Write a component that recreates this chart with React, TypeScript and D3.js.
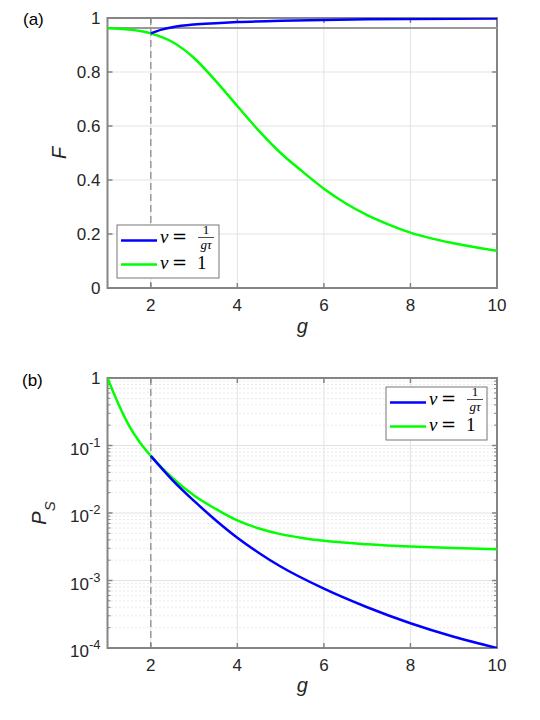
import React from 'react';
import * as d3 from 'd3';

// panel (a): fidelity F versus g
const gGreenF = [1, 1.5, 2, 2.5, 3, 3.5, 4, 4.5, 5, 5.5, 6, 6.5, 7, 7.5, 8, 8.5, 9, 9.5, 10];
const fGreen = [0.962, 0.957, 0.943, 0.911, 0.852, 0.767, 0.674, 0.582, 0.5, 0.432, 0.368, 0.314, 0.27, 0.235, 0.205, 0.183, 0.166, 0.151, 0.138];
const gBlueF = [2, 2.25, 2.5, 3, 3.5, 4, 5, 6, 7, 8, 9, 10];
const fBlue = [0.943, 0.957, 0.966, 0.976, 0.981, 0.985, 0.99, 0.993, 0.995, 0.996, 0.997, 0.998];
const fRef = 0.963;

// panel (b): success probability P_S versus g (log scale)
const gGreenP = [1, 1.25, 1.5, 1.75, 2, 2.5, 3, 3.5, 4, 4.5, 5, 5.5, 6, 7, 8, 9, 10];
const pGreen = [1, 0.415, 0.196, 0.111, 0.0703, 0.0331, 0.0182, 0.0115, 0.00776, 0.00589, 0.00486, 0.00426, 0.00387, 0.00344, 0.00318, 0.00302, 0.00291];
const gBlueP = [2, 2.5, 3, 3.5, 4, 4.5, 5, 6, 7, 8, 9, 10];
const pBlue = [0.0703, 0.0308, 0.0151, 0.00782, 0.0043, 0.00256, 0.00161, 0.000757, 0.000402, 0.000233, 0.000147, 0.0001];

const xTicks = [2, 4, 6, 8, 10];
const fTicks = [0, 0.2, 0.4, 0.6, 0.8, 1];
const pExps = [0, -1, -2, -3, -4];
const gCut = 2;

const W = 540;
const H = 720;
const left = 107.5;
const right = 497;
const axisColor = '#858585';
const gridColor = '#e3e3e3';
const sans = 'Liberation Sans, Arial, sans-serif';
const serif = 'Liberation Serif, Times New Roman, serif';
const tickFont = 17;

const x = d3.scaleLinear().domain([1, 10]).range([left, right]);
const yF = d3.scaleLinear().domain([0, 1]).range([288, 18]);
const yP = d3.scaleLog().domain([1e-4, 1]).range([648, 378]);

const toPts = (gs: number[], vs: number[]) => gs.map((g, i) => [g, vs[i]] as [number, number]);

// legend entry: nu = 1/(g tau)
const NuFrac = ({ x0, y0 }: { x0: number; y0: number }) => (
  <g>
    <text x={x0} y={y0} fontFamily={serif} fontStyle="italic" fontSize={19}>ν</text>
    <text x={x0 + 12} y={y0} fontFamily="DejaVu Serif, serif" fontSize={18}>=</text>
    <text x={x0 + 46} y={y0 - 9} fontFamily={serif} fontSize={13} textAnchor="middle">1</text>
    <line x1={x0 + 38} x2={x0 + 54} y1={y0 - 5.5} y2={y0 - 5.5} stroke="#000" strokeWidth={0.7} />
    <text x={x0 + 46} y={y0 + 6} fontFamily={serif} fontStyle="italic" fontSize={13} textAnchor="middle">gτ</text>
  </g>
);

const NuOne = ({ x0, y0 }: { x0: number; y0: number }) => (
  <g>
    <text x={x0} y={y0} fontFamily={serif} fontStyle="italic" fontSize={19}>ν</text>
    <text x={x0 + 12} y={y0} fontFamily="DejaVu Serif, serif" fontSize={18}>=</text>
    <text x={x0 + 37} y={y0} fontFamily={serif} fontSize={19}>1</text>
  </g>
);

const Legend = ({ x0, y0, w, h }: { x0: number; y0: number; w: number; h: number }) => (
  <g>
    <rect x={x0} y={y0} width={w} height={h} fill="#fff" stroke="#777" strokeWidth={1} />
    <line x1={x0 + 4} x2={x0 + 40} y1={y0 + 15.5} y2={y0 + 15.5} stroke="#0000ff" strokeWidth={2.5} />
    <NuFrac x0={x0 + 43} y0={y0 + 18} />
    <line x1={x0 + 4} x2={x0 + 40} y1={y0 + 39.5} y2={y0 + 39.5} stroke="#00ff00" strokeWidth={2.5} />
    <NuOne x0={x0 + 43} y0={y0 + 44} />
  </g>
);

export default function App() {
  const lineF = d3.line<[number, number]>().x(d => x(d[0])).y(d => yF(d[1])).curve(d3.curveMonotoneX);
  const lineP = d3.line<[number, number]>().x(d => x(d[0])).y(d => yP(d[1])).curve(d3.curveMonotoneX);

  const [t1, b1] = yF.range().slice().reverse();
  const [t2, b2] = yP.range().slice().reverse();

  const minorP: number[] = [];
  for (let e = -4; e < 0; e++) for (let m = 2; m <= 9; m++) minorP.push(m * Math.pow(10, e));

  const xAxis = (top: number, bottom: number) => (
    <g>
      {xTicks.map(t => (
        <g key={t}>
          <line x1={x(t)} x2={x(t)} y1={bottom} y2={bottom - 5} stroke={axisColor} strokeWidth={1.5} />
          <line x1={x(t)} x2={x(t)} y1={top} y2={top + 5} stroke={axisColor} strokeWidth={1.5} />
          <text x={x(t)} y={bottom + 23} textAnchor="middle" fontFamily={sans} fontSize={tickFont} fill="#262626">{t}</text>
        </g>
      ))}
    </g>
  );

  return (
    <svg width={W} height={H} style={{ position: 'absolute', left: 0, top: 0, background: '#fff' }}>
      <defs>
        <clipPath id="clipA"><rect x={left} y={t1} width={right - left} height={b1 - t1} /></clipPath>
        <clipPath id="clipB"><rect x={left} y={t2} width={right - left} height={b2 - t2} /></clipPath>
      </defs>

      {/* ---------- panel (a) ---------- */}
      <text x={23} y={25} fontFamily={sans} fontSize={tickFont} fill="#000">(a)</text>
      {xTicks.map(t => (
        <line key={'gx' + t} x1={x(t)} x2={x(t)} y1={t1} y2={b1} stroke={gridColor} strokeWidth={1} />
      ))}
      {fTicks.map(t => (
        <line key={'gy' + t} x1={left} x2={right} y1={yF(t)} y2={yF(t)} stroke={gridColor} strokeWidth={1} />
      ))}
      <line x1={x(gCut)} x2={x(gCut)} y1={t1} y2={b1} stroke="#999" strokeWidth={1.5} strokeDasharray="7,4" />
      <rect x={left} y={t1} width={right - left} height={b1 - t1} fill="none" stroke={axisColor} strokeWidth={2} />
      {fTicks.map(t => (
        <g key={'ty' + t}>
          <line x1={left} x2={left + 5} y1={yF(t)} y2={yF(t)} stroke={axisColor} strokeWidth={1.5} />
          <line x1={right} x2={right - 5} y1={yF(t)} y2={yF(t)} stroke={axisColor} strokeWidth={1.5} />
          <text x={left - 7} y={yF(t) + 6} textAnchor="end" fontFamily={sans} fontSize={tickFont} fill="#262626">{t}</text>
        </g>
      ))}
      {xAxis(t1, b1)}
      <g clipPath="url(#clipA)">
        <line x1={left} x2={right} y1={yF(fRef)} y2={yF(fRef)} stroke="#999" strokeWidth={2} />
        <path d={lineF(toPts(gGreenF, fGreen)) || ''} fill="none" stroke="#00ff00" strokeWidth={2.5} />
        <path d={lineF(toPts(gBlueF, fBlue)) || ''} fill="none" stroke="#0000ff" strokeWidth={2.5} />
      </g>
      <Legend x0={117} y0={225} w={102} h={53} />
      <text x={(left + right) / 2} y={333} textAnchor="middle" fontFamily={sans} fontStyle="italic" fontSize={20} fill="#262626">g</text>
      <text transform={`translate(66,${(t1 + b1) / 2}) rotate(-90)`} textAnchor="middle" fontFamily={sans} fontStyle="italic" fontSize={20} fill="#262626">F</text>

      {/* ---------- panel (b) ---------- */}
      <text x={22} y={386} fontFamily={sans} fontSize={tickFont} fill="#000">(b)</text>
      {minorP.map(v => (
        <line key={'mg' + v} x1={left} x2={right} y1={yP(v)} y2={yP(v)} stroke="#d6d6d6" strokeWidth={1} strokeDasharray="1,3" />
      ))}
      {xTicks.map(t => (
        <line key={'gx2' + t} x1={x(t)} x2={x(t)} y1={t2} y2={b2} stroke={gridColor} strokeWidth={1} />
      ))}
      {pExps.map(e => (
        <line key={'gy2' + e} x1={left} x2={right} y1={yP(Math.pow(10, e))} y2={yP(Math.pow(10, e))} stroke={gridColor} strokeWidth={1} />
      ))}
      <line x1={x(gCut)} x2={x(gCut)} y1={t2} y2={b2} stroke="#999" strokeWidth={1.5} strokeDasharray="7,4" />
      <rect x={left} y={t2} width={right - left} height={b2 - t2} fill="none" stroke={axisColor} strokeWidth={2} />
      {minorP.map(v => (
        <g key={'mt' + v}>
          <line x1={left} x2={left + 3} y1={yP(v)} y2={yP(v)} stroke={axisColor} strokeWidth={1} />
          <line x1={right} x2={right - 3} y1={yP(v)} y2={yP(v)} stroke={axisColor} strokeWidth={1} />
        </g>
      ))}
      {pExps.map(e => {
        const yy = yP(Math.pow(10, e));
        return (
          <g key={'ty2' + e}>
            <line x1={left} x2={left + 5} y1={yy} y2={yy} stroke={axisColor} strokeWidth={1.5} />
            <line x1={right} x2={right - 5} y1={yy} y2={yy} stroke={axisColor} strokeWidth={1.5} />
            {e === 0 ? (
              <text x={left - 7} y={yy + 6} textAnchor="end" fontFamily={sans} fontSize={tickFont} fill="#262626">1</text>
            ) : (
              <text x={left - 7} y={yy + 9} textAnchor="end" fontFamily={sans} fontSize={tickFont} fill="#262626">
                10<tspan dy={-8} fontSize={13}>{e}</tspan>
              </text>
            )}
          </g>
        );
      })}
      {xAxis(t2, b2)}
      <g clipPath="url(#clipB)">
        <path d={lineP(toPts(gGreenP, pGreen)) || ''} fill="none" stroke="#00ff00" strokeWidth={2.5} />
        <path d={lineP(toPts(gBlueP, pBlue)) || ''} fill="none" stroke="#0000ff" strokeWidth={2.5} />
      </g>
      <Legend x0={386} y0={387} w={101} h={53} />
      <text x={(left + right) / 2} y={692} textAnchor="middle" fontFamily={sans} fontStyle="italic" fontSize={20} fill="#262626">g</text>
      <text transform={`translate(46,${(t2 + b2) / 2}) rotate(-90)`} textAnchor="middle" fontFamily={sans} fontStyle="italic" fontSize={20} fill="#262626">
        P<tspan dy={9} fontSize={15}>S</tspan>
      </text>
    </svg>
  );
}
